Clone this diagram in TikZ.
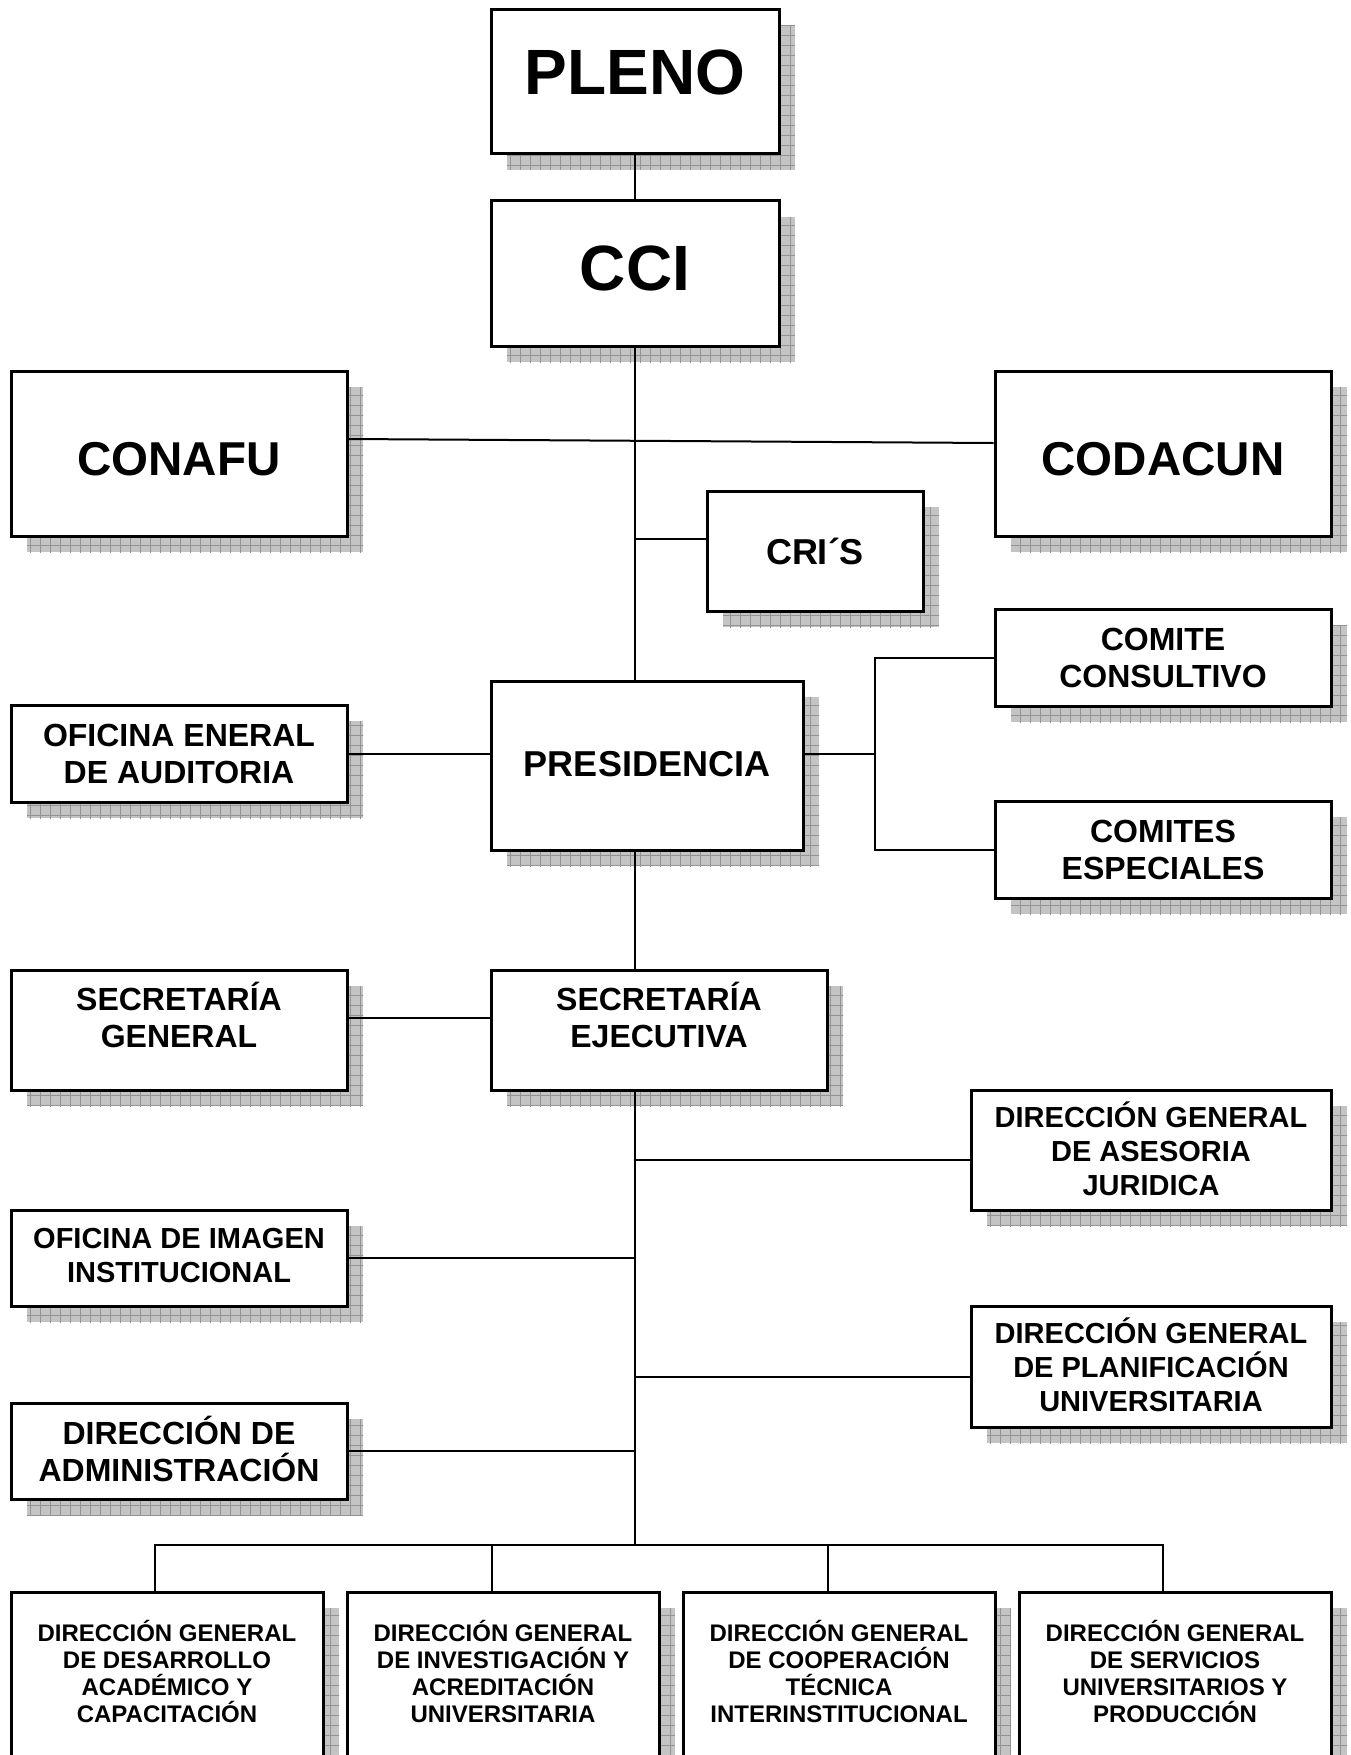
\documentclass[tikz,border=0pt]{standalone}
\usepackage{fontspec}
\setmainfont{Liberation Sans}
\usetikzlibrary{patterns.meta,backgrounds}
\pgfdeclarelayer{paper}
\pgfsetlayers{paper,background,main}
\definecolor{shadowgray}{HTML}{C4C4C4}
\definecolor{gridgray}{HTML}{939393}
\tikzset{
  boxnode/.style={draw, line width=3pt, fill=white, inner sep=0pt, rectangle},
  shadowfill/.style={fill=shadowgray},
  conn/.style={line width=2pt},
  txt/.style={align=center, inner sep=0pt},
  fA/.style={font=\fontsize{64}{72}\selectfont\bfseries},
  fB/.style={font=\fontsize{47.5}{54}\selectfont\bfseries},
  fC/.style={font=\fontsize{36}{41}\selectfont\bfseries},
  fD/.style={font=\fontsize{32}{37}\selectfont\bfseries},
  fE/.style={font=\fontsize{29}{34}\selectfont\bfseries},
  fF/.style={font=\fontsize{24}{27}\selectfont\bfseries},
}
% name, x1, y1, x2, y2, text centre y, text style, text
\newcommand\orgbox[8]{%
  \begin{scope}[on background layer]
    \fill[shadowfill] ({#2+16},{#3+16}) rectangle ({#4+16},{#5+16});
    \fill[pattern={Lines[distance=10pt,angle=0,line width=0.8pt]},pattern color=gridgray] ({#2+16},{#3+16}) rectangle ({#4+16},{#5+16});
    \fill[pattern={Lines[distance=10pt,angle=90,line width=0.8pt]},pattern color=gridgray] ({#2+16},{#3+16}) rectangle ({#4+16},{#5+16});
  \end{scope}
  \node[boxnode, minimum width={(#4-#2)*1pt}, minimum height={(#5-#3)*1pt}] (#1) at ({(#2+#4)/2},{(#3+#5)/2}) {};
  \node[txt, #7] (#1t) at ({(#2+#4)/2},#6) {#8};
}
\begin{document}
\begin{tikzpicture}[x=1pt, y=-1pt]
\useasboundingbox (0,0) rectangle (1350,1755);
\clip (0,0) rectangle (1350,1755);
\begin{pgfonlayer}{paper}
\fill[white] (0,0) rectangle (1350,1755);
\end{pgfonlayer}

\orgbox{pleno}{491}{10}{779}{154}{72}{fA}{PLENO}
\orgbox{cci}{491}{201}{779}{346}{268}{fA}{CCI}
\orgbox{conafu}{11}{371}{347}{536}{459}{fB}{CONAFU}
\orgbox{codacun}{995}{371}{1331}{536}{459}{fB}{CODACUN}
\orgbox{cris}{707}{491}{923}{611}{551}{fC}{CRI´S}
\orgbox{cc}{995}{609}{1331}{706}{658}{fD}{COMITE\\CONSULTIVO}
\orgbox{aud}{11}{705}{347}{802}{754}{fD}{OFICINA ENERAL\\DE AUDITORIA}
\orgbox{pres}{491}{681}{803}{850}{764}{fC}{PRESIDENCIA}
\orgbox{ce}{995}{801}{1331}{898}{850}{fD}{COMITES\\ESPECIALES}
\orgbox{sg}{11}{970}{347}{1090}{1015}{fD}{SECRETARÍA\\GENERAL}
\orgbox{sej}{491}{970}{827}{1090}{1015}{fD}{SECRETARÍA\\EJECUTIVA}
\orgbox{ase}{971}{1090}{1331}{1210}{1149}{fE}{DIRECCIÓN GENERAL\\DE ASESORIA\\JURIDICA}
\orgbox{img}{11}{1210}{347}{1306}{1256}{fE}{OFICINA DE IMAGEN\\INSTITUCIONAL}
\orgbox{pla}{971}{1306}{1331}{1427}{1365}{fE}{DIRECCIÓN GENERAL\\DE PLANIFICACIÓN\\UNIVERSITARIA}
\orgbox{adm}{11}{1403}{347}{1499}{1449}{fD}{DIRECCIÓN DE\\ADMINISTRACIÓN}
\orgbox{bA}{11}{1592}{323}{1790}{1671}{fF}{DIRECCIÓN GENERAL\\DE DESARROLLO\\ACADÉMICO Y\\CAPACITACIÓN}
\orgbox{bB}{347}{1592}{659}{1790}{1671}{fF}{DIRECCIÓN GENERAL\\DE INVESTIGACIÓN Y\\ACREDITACIÓN\\UNIVERSITARIA}
\orgbox{bC}{683}{1592}{995}{1790}{1671}{fF}{DIRECCIÓN GENERAL\\DE COOPERACIÓN\\TÉCNICA\\INTERINSTITUCIONAL}
\orgbox{bD}{1019}{1592}{1331}{1790}{1671}{fF}{DIRECCIÓN GENERAL\\DE SERVICIOS\\UNIVERSITARIOS Y\\PRODUCCIÓN}

% connectors
\coordinate (conL) at ([yshift=14.5pt]conafu.east);
\coordinate (conR) at ([yshift=10.5pt]codacun.west);
\coordinate (crisIn) at ([yshift=12pt]cris.west);
\coordinate (rj) at (875,754);
\coordinate (sgIn) at ([yshift=12pt]sg.east);
\coordinate (aseIn) at ([yshift=-10pt]ase.west);
\coordinate (plaIn) at ([yshift=-10.5pt]pla.west);
\coordinate (bus) at (635,1545);
\coordinate (dA) at ([xshift=-12pt]bA.north);
\coordinate (dB) at ([xshift=-11.5pt]bB.north);
\coordinate (dC) at ([xshift=-11.5pt]bC.north);
\coordinate (dD) at ([xshift=-12pt]bD.north);

\draw[conn] (pleno.south) -- (cci.north);
\draw[conn] (cci.south) -- (cci.south |- pres.north);
\draw[conn] (conL) -- (conR);
\draw[conn] (crisIn) -- (crisIn -| cci.south);
\draw[conn] (aud.east) -- (aud.east -| pres.west);
\draw[conn] (pres.east |- rj) -- (rj);
\draw[conn] (cc.west) -| (rj) |- (ce.west);
\draw[conn] (cci.south |- pres.south) -- (cci.south |- sej.north);
\draw[conn] (sgIn) -- (sgIn -| sej.west);
\draw[conn] (cci.south |- sej.south) -- (bus);
\draw[conn] (aseIn) -- (aseIn -| bus);
\draw[conn] (img.east) -- (img.east -| bus);
\draw[conn] (plaIn) -- (plaIn -| bus);
\draw[conn] (adm.east) -- (adm.east -| bus);
\draw[conn] (dA) -- (dA |- bus) -- (dD |- bus) -- (dD);
\draw[conn] (dB) -- (dB |- bus);
\draw[conn] (dC) -- (dC |- bus);
\end{tikzpicture}
\end{document}
